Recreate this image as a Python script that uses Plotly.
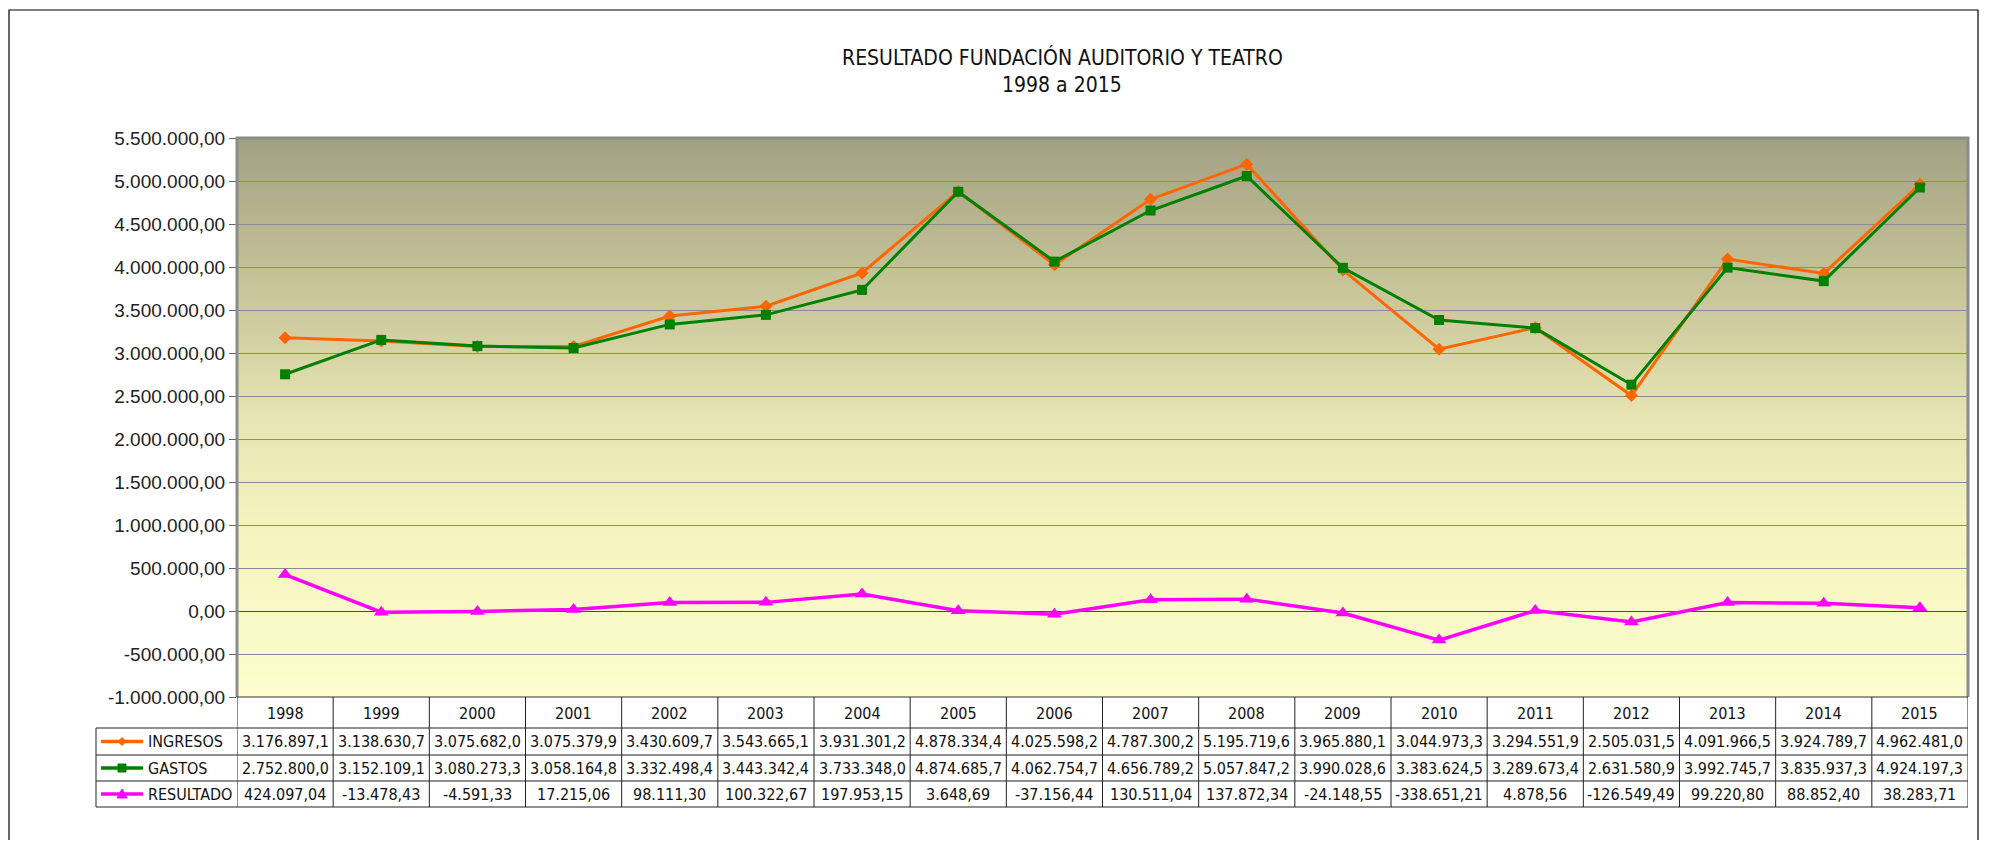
import plotly.graph_objects as go

# ---------------- data ----------------
years = ["1998", "1999", "2000", "2001", "2002", "2003", "2004", "2005", "2006",
         "2007", "2008", "2009", "2010", "2011", "2012", "2013", "2014", "2015"]
ingresos = [3176897.1, 3138630.7, 3075682.0, 3075379.9, 3430609.7, 3543665.1,
            3931301.2, 4878334.4, 4025598.2, 4787300.2, 5195719.6, 3965880.1,
            3044973.3, 3294551.9, 2505031.5, 4091966.5, 3924789.7, 4962481.0]
gastos = [2752800.0, 3152109.1, 3080273.3, 3058164.8, 3332498.4, 3443342.4,
          3733348.0, 4874685.7, 4062754.7, 4656789.2, 5057847.2, 3990028.6,
          3383624.5, 3289673.4, 2631580.9, 3992745.7, 3835937.3, 4924197.3]
resultado = [424097.04, -13478.43, -4591.33, 17215.06, 98111.30, 100322.67,
             197953.15, 3648.69, -37156.44, 130511.04, 137872.34, -24148.55,
             -338651.21, 4878.56, -126549.49, 99220.80, 88852.40, 38283.71]
series_names = ["INGRESOS", "GASTOS", "RESULTADO"]
y_ticks = [-1000000, -500000, 0, 500000, 1000000, 1500000, 2000000, 2500000,
           3000000, 3500000, 4000000, 4500000, 5000000, 5500000]
title_1 = "RESULTADO FUNDACIÓN AUDITORIO Y TEATRO"
title_2 = "1998 a 2015"


def fmt(v, d):
    s = f"{v:,.{d}f}"
    return s.replace(",", "X").replace(".", ",").replace("X", ".")


# ---------------- layout geometry (reference pixels) ----------------
OFF = 8                      # default page body margin
FW, FH = 1995 - 2 * OFF, 848 - 2 * OFF
L, R, T, B = 237, 1968, 138, 697
W, H = R - L, B - T


def px(xp):
    return (xp - L) / W


def py(yp):
    return (B - yp) / H


colors = ["#FF6600", "#008000", "#FF00FF"]
symbols = ["diamond", "square", "triangle-up"]
msizes = [10, 10, 13]
lwidths = [3, 3, 3.5]
TFONT = "DejaVu Sans Condensed, Tahoma, sans-serif"

fig = go.Figure()
for name, vals, c, s, ms, lw in zip(series_names, [ingresos, gastos, resultado],
                                    colors, symbols, msizes, lwidths):
    fig.add_trace(go.Scatter(x=years, y=vals, name=name, mode="lines+markers",
                             line=dict(color=c, width=lw),
                             marker=dict(symbol=s, size=ms, color=c),
                             showlegend=False))

shapes = []
# gradient background of plot area
stops = [(0.0, (163, 161, 131)), (0.3, (203, 201, 156)), (0.5, (230, 228, 178)),
         (0.7, (245, 244, 192)), (1.0, (253, 253, 205))]


def grad(t):
    for (t0, c0), (t1, c1) in zip(stops[:-1], stops[1:]):
        if t0 <= t <= t1:
            f = (t - t0) / (t1 - t0)
            return tuple(round(a + (b - a) * f) for a, b in zip(c0, c1))
    return stops[-1][1]


NB = 140
for k in range(NB):
    t = (k + 0.5) / NB
    c = grad(t)
    shapes.append(dict(type="rect", xref="paper", yref="paper", x0=0, x1=1,
                       y0=1 - (k + 1) / NB - 0.001, y1=1 - k / NB + 0.001,
                       fillcolor=f"rgb{c}", line=dict(width=0), layer="below"))

# plot-area frame
shapes.append(dict(type="path", xref="paper", yref="paper",
                   path="M 0 0 L 0 1 L 1 1 L 1 0", line=dict(color="#8C8C8C", width=3)))
shapes.append(dict(type="line", xref="paper", yref="paper", x0=0, x1=1, y0=0, y1=0,
                   line=dict(color="#333333", width=1)))

# outer chart border
shapes.append(dict(type="path", xref="paper", yref="paper",
                   path=f"M {px(9)} {py(870)} L {px(9)} {py(10)} L {px(1978)} {py(10)} L {px(1978)} {py(870)}",
                   line=dict(color="#000000", width=1.2)))

# data table grid
rows_y = [697, 728, 755, 781, 807]
TL = 96
tcol = "#222222"
for i in range(len(years) + 1):
    shapes.append(dict(type="line", xref="x", yref="paper", x0=i - 0.5, x1=i - 0.5,
                       y0=py(697), y1=py(807), line=dict(color=tcol, width=1)))
for yy in rows_y[1:]:
    shapes.append(dict(type="line", xref="paper", yref="paper", x0=px(TL), x1=1,
                       y0=py(yy), y1=py(yy), line=dict(color=tcol, width=1)))
shapes.append(dict(type="line", xref="paper", yref="paper", x0=px(TL), x1=px(TL),
                   y0=py(728), y1=py(807), line=dict(color=tcol, width=1)))

annotations = []
# title
for txt, yy in [(title_1, 58), (title_2, 85)]:
    annotations.append(dict(text=txt, xref="paper", yref="paper", x=px(1062), y=py(yy),
                            xanchor="center", yanchor="middle", showarrow=False,
                            font=dict(family=TFONT, size=21, color="#111111")))

# header years (positioned by category index)
for i, yr in enumerate(years):
    annotations.append(dict(text=yr, xref="x", yref="paper", x=i, y=py(713),
                            xanchor="center", yanchor="middle", showarrow=False,
                            font=dict(family=TFONT, size=16, color="#111111")))

row_centers = [741.5, 768, 794]
decs = [1, 1, 2]
for r, (name, vals, c, d) in enumerate(zip(series_names, [ingresos, gastos, resultado], colors, decs)):
    yc = row_centers[r]
    for i, v in enumerate(vals):
        annotations.append(dict(text=fmt(v, d), xref="x", yref="paper", x=i, y=py(yc),
                                xanchor="center", yanchor="middle", showarrow=False,
                                font=dict(family=TFONT, size=16, color="#111111")))
    # legend key
    annotations.append(dict(text=name, xref="paper", yref="paper", x=px(146), y=py(yc),
                            xanchor="left", yanchor="middle", showarrow=False,
                            font=dict(family=TFONT, size=16, color="#111111")))
    shapes.append(dict(type="line", xref="paper", yref="paper", x0=px(101), x1=px(143),
                       y0=py(yc), y1=py(yc), line=dict(color=c, width=3.5)))
    if r == 0:
        path = "M -4 0 L 0 4 L 4 0 L 0 -4 Z"
    elif r == 1:
        path = "M -4 -4 L 4 -4 L 4 4 L -4 4 Z"
    else:
        path = "M -5 -4 L 5 -4 L 0 5 Z"
    shapes.append(dict(type="path", xref="paper", yref="paper", xsizemode="pixel",
                       ysizemode="pixel", xanchor=px(122), yanchor=py(yc), path=path,
                       fillcolor=c, line=dict(color=c, width=1)))

fig.update_layout(
    width=FW, height=FH,
    margin=dict(l=L - OFF, r=FW - (R - OFF), t=T - OFF, b=FH - (B - OFF), autoexpand=False),
    paper_bgcolor="white", plot_bgcolor="rgba(0,0,0,0)",
    shapes=shapes, annotations=annotations,
    xaxis=dict(type="category", range=[-0.5, len(years) - 0.5], showticklabels=False,
               showgrid=False, zeroline=False, ticks="", automargin=False),
    yaxis=dict(range=[y_ticks[0], y_ticks[-1]], tickvals=y_ticks,
               ticktext=[fmt(v, 2) for v in y_ticks], automargin=False,
               tickfont=dict(family="Liberation Sans, Arial, sans-serif", size=19, color="#222222"),
               ticks="outside", ticklen=7, tickcolor="#666666",
               showgrid=True, gridcolor="#8A8A8A", gridwidth=1,
               zeroline=True, zerolinecolor="#4A4A4A", zerolinewidth=1),
    showlegend=False,
)

fig.write_html("out.html")
